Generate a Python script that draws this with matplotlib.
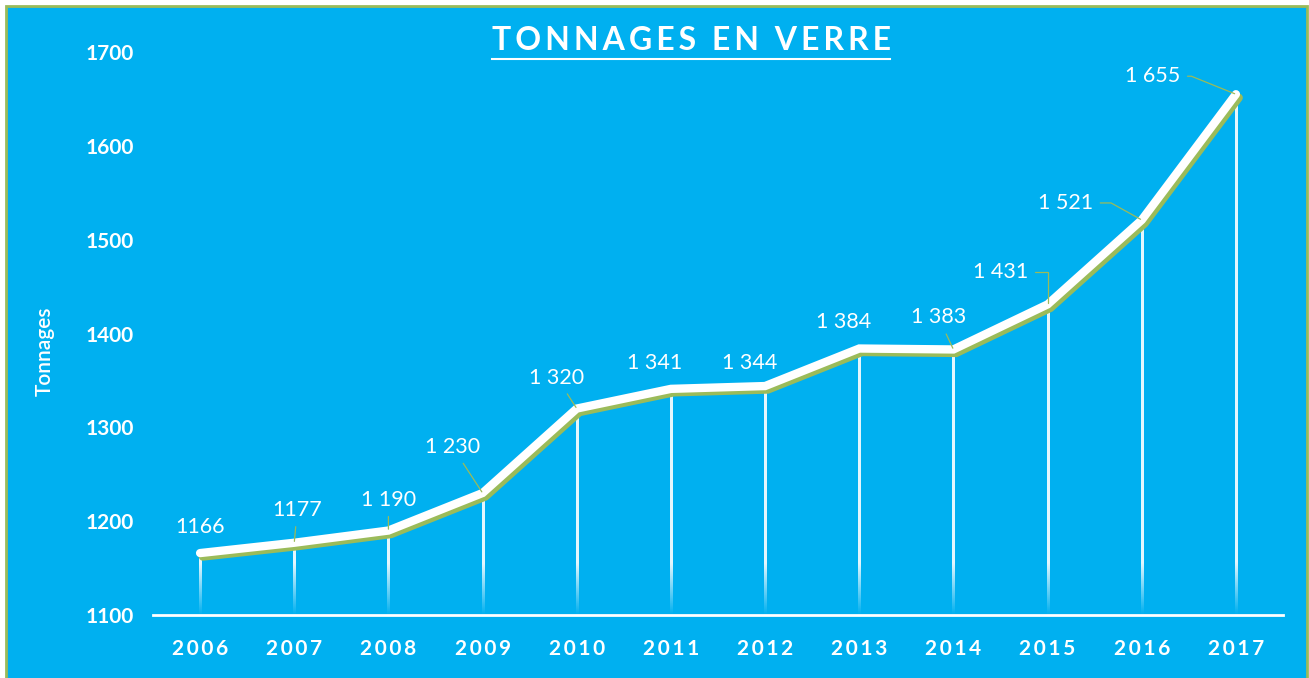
import numpy as np
import matplotlib
matplotlib.use("Agg")
import matplotlib.pyplot as plt
import matplotlib.patheffects as pe
from matplotlib.patches import Rectangle

# Data
years = ["2006", "2007", "2008", "2009", "2010", "2011",
         "2012", "2013", "2014", "2015", "2016", "2017"]
tonnages = [1166, 1177, 1190, 1230, 1320, 1341, 1344, 1384, 1383, 1431, 1521, 1655]
labels = ["1166", "1177", "1 190", "1 230", "1 320", "1 341",
          "1 344", "1 384", "1 383", "1 431", "1 521", "1 655"]

BLUE = "#00B0F0"
GREEN = "#9BBB59"

plt.rcParams["font.family"] = ["Lato", "DejaVu Sans"]

fig = plt.figure(figsize=(13.09, 6.78), dpi=100)
fig.patch.set_facecolor("white")

# blue panel with green border
fig.patches.append(Rectangle((6 / 1309, -0.05), 1301 / 1309, 1 - 6 / 678 + 0.05,
                             transform=fig.transFigure, facecolor=BLUE,
                             edgecolor=GREEN, lw=2, zorder=-5))

ax = fig.add_axes([153 / 1309, 1 - 615 / 678, 1130 / 1309, (615 - 52) / 678])
ax.set_facecolor("none")
ax.set_zorder(2)

x = np.arange(len(years))

# drop lines fading toward the axis (vertical gradient images)
half_w = 0.011
for xi, v in zip(x, tonnages):
    ys = np.linspace(v, 1100, 200)
    grad = np.ones((len(ys), 1, 4))
    grad[:, 0, 3] = np.clip((ys - 1100) / 55, 0.02, 1) * 0.9
    ax.imshow(grad, extent=(xi - half_w, xi + half_w, 1100, v), aspect="auto",
              interpolation="bilinear", zorder=2)

ax.set_xlim(-0.5, len(years) - 0.5)
ax.set_ylim(1100, 1700)

# main line with green shadow
ax.plot(x, tonnages, color="white", lw=6, solid_capstyle="round",
        solid_joinstyle="miter", zorder=3,
        path_effects=[pe.SimpleLineShadow(offset=(2, -2.5), shadow_color=GREEN, alpha=1),
                      pe.Normal()])

# data labels (offsets in pixels from the point)
offsets = [(0, 26), (3, 33), (0, 31), (-30, 46), (-20, 31), (-16, 26),
           (-15, 23), (-16, 27), (-15, 32), (-47, 32), (-76, 17), (-83, 18)]
leaders = [None, "arc3", "arc3", "arc3", "arc3", None, None, None, "arc3",
           "angle,angleA=0,angleB=90,rad=0",
           "angle,angleA=0,angleB=-29,rad=0",
           "angle,angleA=0,angleB=-22,rad=0"]
for xi, v, lab, off, ld in zip(x, tonnages, labels, offsets, leaders):
    arrow = None
    if ld:
        arrow = dict(arrowstyle="-", color=GREEN, lw=0.9, connectionstyle=ld,
                     shrinkA=3, shrinkB=1)
    ax.annotate(lab, (xi, v), xytext=off, textcoords="offset pixels",
                ha="center", va="center", color="white", fontsize=15.5,
                arrowprops=arrow, zorder=4)

# axes styling
for s in ["top", "right", "left"]:
    ax.spines[s].set_visible(False)
ax.spines["bottom"].set_color("white")
ax.spines["bottom"].set_linewidth(2)

ax.set_yticks([1100, 1200, 1300, 1400, 1500, 1600, 1700])
ax.tick_params(axis="y", length=0, pad=14, labelsize=15, labelcolor="white")
for t in ax.get_yticklabels():
    t.set_fontweight("bold")

ax.set_xticks(x)
ax.set_xticklabels(["\u2009".join(y) for y in years])
ax.tick_params(axis="x", length=0, pad=17, labelsize=15, labelcolor="white")
for t in ax.get_xticklabels():
    t.set_fontweight("bold")

fig.text(45 / 1309, 1 - 351 / 678, "Tonnages", rotation=90, color="white",
         fontsize=15, fontweight="semibold", ha="center", va="center")

# title with underline
fig.text(691 / 1309, 1 - 41 / 678, "\u2009".join("TONNAGES EN VERRE"),
         color="white", fontsize=23, fontweight="bold", ha="center", va="center")
fig.add_artist(plt.Line2D([492 / 1309, 890 / 1309], [1 - 59 / 678, 1 - 59 / 678],
                          color="white", lw=1.5, transform=fig.transFigure))

fig.savefig("out.png", dpi=100)
